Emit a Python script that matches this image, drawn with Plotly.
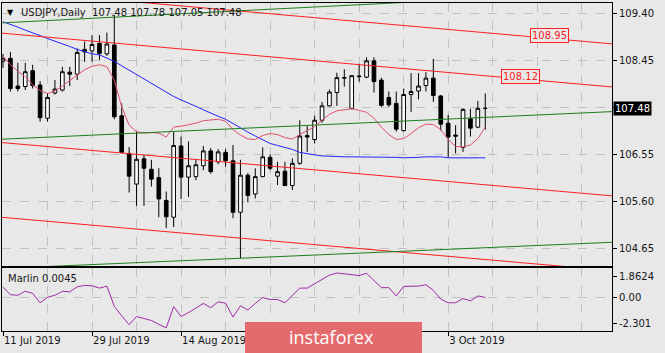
import plotly.graph_objects as go

W, H = 665, 353

# ---------------- data ----------------
bars = list(range(66))  # trading days from 11 Jul 2019 to 10 Oct 2019

opens = [108.43,108.49,107.93,107.92,108.24,107.95,107.28,107.79,107.85,108.21,
         108.17,108.62,108.64,108.79,108.58,108.76,107.33,106.57,105.95,106.46,
         106.25,106.08,105.62,105.28,106.72,106.09,106.10,106.32,106.62,106.40,
         106.59,106.42,105.38,106.13,105.75,106.10,106.49,106.11,106.21,105.92,
         106.37,106.93,106.85,107.24,107.53,107.80,108.09,107.48,108.12,108.11,
         108.44,108.05,107.70,107.58,107.03,107.76,107.83,107.94,108.09,107.73,
         107.18,106.94,106.69,107.27,107.10,107.48]
highs = [108.58,108.62,108.40,108.40,108.36,108.03,107.79,108.05,108.32,108.32,
         108.69,108.83,108.96,108.96,109.01,109.37,107.58,106.70,107.01,106.54,
         106.44,106.27,105.80,107.00,106.91,106.81,106.44,106.72,106.68,106.66,
         106.66,106.74,106.44,106.17,106.27,106.69,106.55,106.40,106.40,106.47,
         107.24,107.12,107.33,107.61,107.86,108.20,108.27,108.15,108.38,108.51,
         108.51,108.10,107.82,107.82,107.88,108.19,108.19,108.21,108.48,107.75,
         107.35,107.14,107.48,107.47,107.63,107.78]
lows = [108.30,107.82,107.82,107.85,107.88,107.21,107.21,107.76,107.82,107.93,
        108.05,108.42,108.42,108.46,108.54,107.26,106.57,105.78,105.51,105.51,
        105.90,105.28,105.06,105.08,105.65,105.69,106.03,106.23,106.16,106.35,
        106.30,105.26,104.45,105.58,105.66,106.09,106.23,105.93,105.91,105.83,
        106.34,106.60,106.77,107.19,107.52,107.53,107.92,107.46,108.02,108.09,
        107.80,107.51,107.51,107.01,107.01,107.41,107.66,107.82,107.61,107.03,
        106.49,106.57,106.60,106.91,107.08,107.05]
closes = [108.48,107.88,107.88,108.22,107.94,107.29,107.70,107.87,108.22,108.17,
          108.61,108.67,108.77,108.59,108.78,107.31,106.59,106.11,106.45,106.27,
          106.05,105.65,105.29,106.73,106.09,106.32,106.34,106.62,106.20,106.60,
          106.42,105.38,106.13,105.72,106.10,106.50,106.27,106.20,105.92,106.37,
          106.92,106.90,107.24,107.53,107.81,108.10,108.10,108.14,108.13,108.44,
          108.02,107.54,107.55,107.06,107.76,107.82,107.93,108.09,107.74,107.16,
          106.90,106.92,107.46,107.08,107.48,107.48]

ma_blue = [109.23,109.18,109.12,109.06,109.01,108.95,108.89,108.84,108.79,108.73,
           108.67,108.62,108.58,108.56,108.50,108.43,108.34,108.25,108.17,108.08,
           107.99,107.90,107.80,107.72,107.65,107.59,107.52,107.45,107.38,107.32,
           107.26,107.17,107.08,107.00,106.92,106.84,106.77,106.73,106.69,106.65,
           106.59,106.56,106.54,106.52,106.51,106.51,106.50,106.50,106.50,106.50,
           106.50,106.50,106.50,106.49,106.48,106.48,106.49,106.50,106.50,106.50,
           106.48,106.48,106.48,106.48,106.48,106.48]

ma_pink = [108.54,108.36,108.23,108.12,107.96,107.84,107.78,107.83,107.93,108.04,
           108.15,108.26,108.33,108.36,108.32,108.05,107.51,107.14,107.01,106.98,
           106.99,106.98,106.90,107.10,107.12,107.15,107.18,107.23,107.24,107.26,
           107.22,107.05,106.94,106.86,106.85,106.93,106.97,106.95,106.89,106.86,
           106.95,107.03,107.11,107.24,107.36,107.43,107.45,107.47,107.44,107.40,
           107.28,107.10,106.95,106.85,106.87,106.97,107.09,107.16,107.15,107.05,
           106.85,106.71,106.70,106.74,106.87,107.10]

marlin = [0.93,0.25,0.20,0.56,0.37,-0.47,0.02,0.20,0.55,0.50,
          0.95,1.08,1.05,0.84,1.02,-0.80,-1.64,-2.43,-1.70,-1.85,
          -2.05,-2.40,-2.72,-0.82,-1.70,-1.35,-0.90,-0.53,-0.91,-0.39,
          -0.50,-1.75,-0.74,-1.11,-0.53,0.00,-0.18,-0.18,-0.47,0.20,
          0.84,0.84,1.23,1.65,2.00,2.19,2.12,2.00,1.96,2.16,
          1.52,0.88,0.88,0.14,0.99,1.02,1.02,1.14,0.64,-0.15,
          -0.47,-0.47,-0.09,-0.30,0.14,0.0045]

# channel / trend lines: values at bar -1 and bar 83
line_bars = [-1, 83]
red_upper = [109.88, 108.77]
red_mid = [109.01, 107.90]
red_low = [106.80, 105.70]
red_bottom = [105.29, 104.19]
green_top = [109.20, 109.84]
green_mid = [106.85, 107.42]
green_bottom = [104.24, 104.78]

level_values = [108.95, 108.12]
last_price = 107.48
title_text = "USDJPY,Daily\u00a0\u00a0107.48 107.78 107.05 107.48"
indicator_text = "Marlin 0.0045"

price_ticks = [109.40, 108.45, 107.50, 106.55, 105.60, 104.65]
price_ticktext = ["109.40", "108.45", "", "106.55", "105.60", "104.65"]
marlin_ticks = [1.8624, 0.0, -2.301]
marlin_ticktext = ["1.8624", "0.00", "-2.301"]
date_tick_bars = [0, 12, 24, 36, 48, 60]
# the two middle labels are hidden under the watermark in the reference
date_tick_labels = ["11 Jul 2019", "29 Jul 2019", "14 Aug 2019", "", "", "3 Oct 2019"]
grid_bars = [6, 18, 30, 42, 54, 66, 72, 78]

# ---------------- style / layout ----------------
BG = "#e8e8e8"
GRID = "#c2c2c2"
FONT = "DejaVu Sans"
TXT = "#161616"

def px_x(p):
    return p / W

def px_y(p):
    return 1 - p / H

x_dom = [px_x(2), px_x(612)]
y_main = [px_y(266), px_y(3)]
y_ind = [px_y(331), px_y(268)]
x_range = [-0.135, 82.08]

fig = go.Figure()

fig.add_trace(go.Candlestick(
    x=bars, open=opens, high=highs, low=lows, close=closes,
    increasing=dict(line=dict(color="#000000", width=1), fillcolor="#ffffff"),
    decreasing=dict(line=dict(color="#000000", width=1), fillcolor="#000000"),
    whiskerwidth=0, showlegend=False, hoverinfo="skip", xaxis="x", yaxis="y"))

fig.add_trace(go.Scatter(x=bars, y=ma_blue, mode="lines",
                         line=dict(color="#2424ff", width=1), showlegend=False,
                         hoverinfo="skip", xaxis="x", yaxis="y"))
fig.add_trace(go.Scatter(x=bars, y=ma_pink, mode="lines",
                         line=dict(color="#e2506c", width=1), showlegend=False,
                         hoverinfo="skip", xaxis="x", yaxis="y"))

for vals in (red_upper, red_mid, red_low, red_bottom):
    fig.add_trace(go.Scatter(x=line_bars, y=vals, mode="lines",
                             line=dict(color="#ff1e1e", width=1), showlegend=False,
                             hoverinfo="skip", xaxis="x", yaxis="y"))
for vals in (green_top, green_mid, green_bottom):
    fig.add_trace(go.Scatter(x=line_bars, y=vals, mode="lines",
                             line=dict(color="#1c7d1c", width=1), showlegend=False,
                             hoverinfo="skip", xaxis="x", yaxis="y"))

fig.add_trace(go.Scatter(x=bars, y=marlin, mode="lines",
                         line=dict(color="#a02aa6", width=1), showlegend=False,
                         hoverinfo="skip", xaxis="x2", yaxis="y2"))

tickfont = dict(family=FONT, size=10, color=TXT)

fig.update_layout(
    width=W, height=H, margin=dict(l=0, r=0, t=0, b=0),
    paper_bgcolor=BG, plot_bgcolor=BG, showlegend=False,
    xaxis=dict(domain=x_dom, anchor="y", range=x_range, tickvals=[0, 12, 24, 36, 48, 60],
               showticklabels=False, ticks="", showgrid=True, gridcolor=GRID, griddash="dash",
               gridwidth=1, showline=True, mirror=True, linecolor="#000000", linewidth=1,
               zeroline=False, rangeslider=dict(visible=False), fixedrange=True,
               minor=dict(tickvals=grid_bars, showgrid=True, gridcolor=GRID, griddash="dash",
                          ticks="")),
    yaxis=dict(domain=y_main, anchor="x", side="right", range=[104.295, 109.608],
               tickvals=price_ticks, ticktext=price_ticktext, tickfont=tickfont,
               ticks="outside", ticklen=4, tickcolor="#000000",
               showgrid=True, gridcolor=GRID, griddash="dash", gridwidth=1,
               showline=True, mirror=True, linecolor="#000000", linewidth=1,
               zeroline=False, fixedrange=True),
    xaxis2=dict(domain=x_dom, anchor="y2", range=x_range, tickvals=date_tick_bars,
                ticktext=date_tick_labels, tickfont=tickfont, ticks="outside", ticklen=4,
                tickcolor="#000000", ticklabelposition="outside right",
                showgrid=True, gridcolor=GRID, griddash="dash", gridwidth=1,
                showline=True, mirror=True, linecolor="#000000", linewidth=1,
                zeroline=False, fixedrange=True,
                minor=dict(tickvals=grid_bars, showgrid=True, gridcolor=GRID,
                           griddash="dash", ticks="")),
    yaxis2=dict(domain=y_ind, anchor="x2", side="right", range=[-2.994, 2.636],
                tickvals=marlin_ticks, ticktext=marlin_ticktext, tickfont=tickfont,
                ticks="outside", ticklen=4, tickcolor="#000000", showgrid=False,
                showline=True, mirror=True, linecolor="#000000", linewidth=1,
                zeroline=False, fixedrange=True),
)

# zero line of the indicator
fig.add_shape(type="line", xref="x2 domain", yref="y2", x0=0, x1=1, y0=0, y1=0,
              line=dict(color=GRID, width=1, dash="dash"), layer="below")

# watermark box
fig.add_shape(type="rect", xref="paper", yref="paper",
              x0=px_x(245), x1=px_x(422), y0=0, y1=px_y(322),
              fillcolor="#e46b6d", line=dict(width=0), layer="above")

ann = []
ann.append(dict(xref="paper", yref="paper", x=px_x(5), y=px_y(12), xanchor="left",
                yanchor="middle", text="\u25bc", showarrow=False,
                font=dict(family=FONT, size=8, color="#000000")))
ann.append(dict(xref="paper", yref="paper", x=px_x(19), y=px_y(12.5), xanchor="left",
                yanchor="middle", text=title_text, showarrow=False,
                font=dict(family=FONT, size=10, color=TXT)))
ann.append(dict(xref="paper", yref="paper", x=px_x(6), y=px_y(278), xanchor="left",
                yanchor="middle", text=indicator_text, showarrow=False,
                font=dict(family=FONT, size=10, color=TXT)))
label_bars = [73.7, 69.7]
for lb, v in zip(label_bars, level_values):
    ann.append(dict(xref="x", yref="y", x=lb, y=v, xanchor="center", yanchor="middle",
                    text=f"{v:.2f}", showarrow=False, bgcolor=BG,
                    bordercolor="#ff1e1e", borderwidth=1, borderpad=1,
                    font=dict(family=FONT, size=10, color="#ff1e1e")))
ann.append(dict(xref="paper", yref="y", x=px_x(613), y=last_price, xanchor="left",
                yanchor="middle", text=f"{last_price:.2f}", showarrow=False,
                bgcolor="#000000", borderpad=1,
                font=dict(family=FONT, size=10, color="#ffffff")))
ann.append(dict(xref="paper", yref="paper", x=px_x(331), y=px_y(337), xanchor="center",
                yanchor="middle", text="instaforex", showarrow=False,
                font=dict(family="Open Sans", size=18, color="#ffffff")))
fig.update_layout(annotations=ann)

fig.write_html("out.html")
